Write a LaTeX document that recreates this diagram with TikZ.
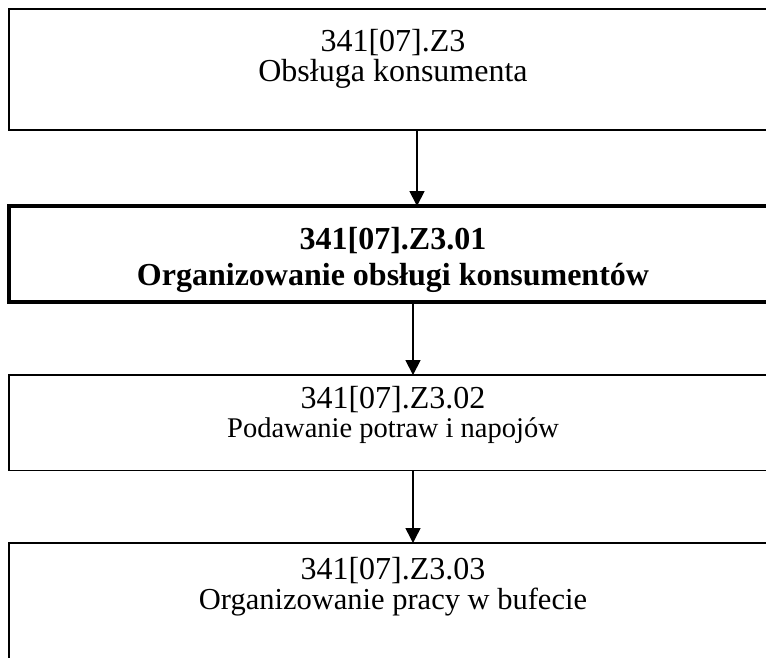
\documentclass[tikz,border=0pt]{standalone}
\usepackage{fontspec}
\setmainfont{Liberation Serif}
\usetikzlibrary{positioning, arrows.meta}

\tikzset{
  box/.style = {draw, rectangle, minimum width=768pt, inner sep=0pt, outer sep=0pt},
  lbl/.style = {inner sep=0pt, align=center, font=\fontsize{32}{30}\selectfont},
  arr/.style = {line width=1.5pt, -{Triangle[length=15pt, width=15pt]}}
}

\begin{document}
\begin{tikzpicture}[x=1pt, y=-1pt]
    \clip (0,0) rectangle (766,657);
    % boxes
    \node[box, line width=2pt, minimum height=121pt] (b1) at (393,69.5) {};
    \node[box, line width=4pt, minimum height=95.5pt] (b2) at (393,253.8) {};
    \node[box, line width=1.8pt, minimum height=95.5pt] (b3) at (393,422.8) {};
    \node[box, line width=1.8pt, minimum height=140pt] (b4) at (393,613) {};
    % texts
    \node[lbl, below=20.3pt of b1.north] (t1) {341[07].Z3\\Obsługa konsumenta};
    \node[lbl, below=21pt of b2.north, font=\fontsize{32}{30}\selectfont\bfseries] (t2)
        {341[07].Z3.01\\[6pt]Organizowanie obsługi konsumentów};
    \node[lbl, below=11.3pt of b3.north] (t3)
        {341[07].Z3.02\\[-1pt]{\fontsize{28.5}{30}\selectfont Podawanie potraw i napojów}};
    \node[lbl, below=14.5pt of b4.north] (t4)
        {341[07].Z3.03\\{\fontsize{30.5}{30}\selectfont Organizowanie pracy w bufecie}};
    % arrows
    \coordinate (ax1) at (417,0);
    \coordinate (ax2) at (413,0);
    \draw[arr] (b1.south -| ax1) -- (b2.north -| ax1);
    \draw[arr] (b2.south -| ax2) -- (b3.north -| ax2);
    \draw[arr] (b3.south -| ax2) -- (b4.north -| ax2);
\end{tikzpicture}
\end{document}
